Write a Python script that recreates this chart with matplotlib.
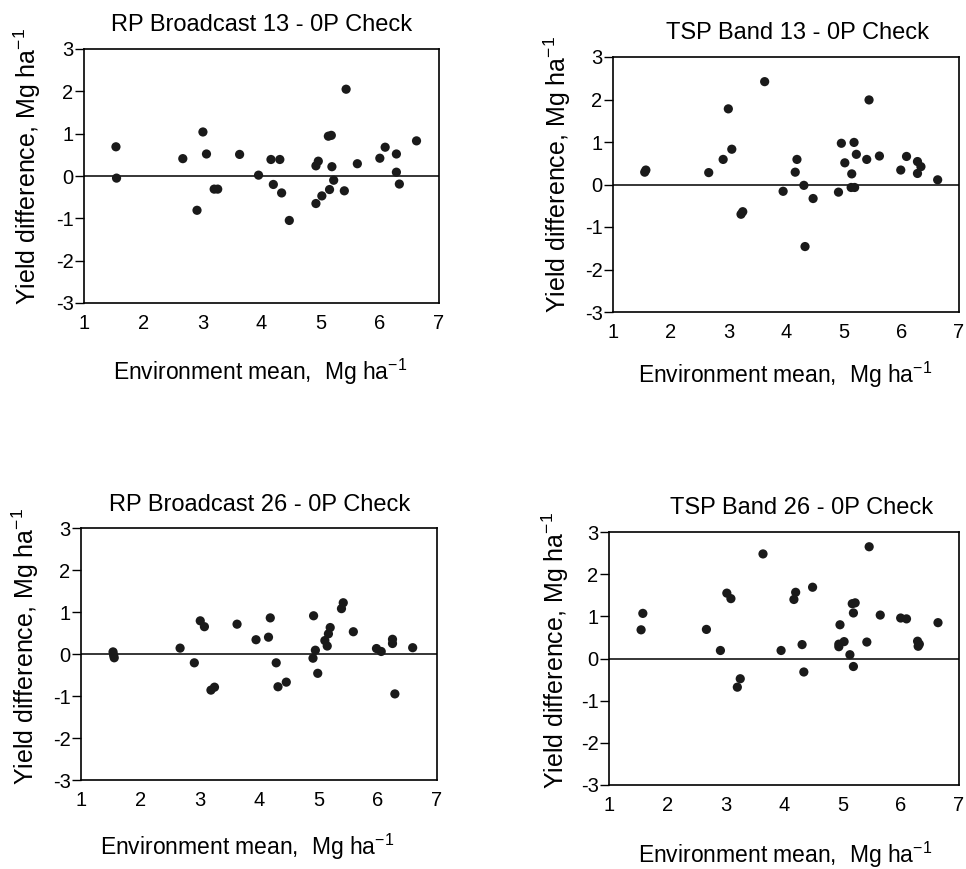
import matplotlib
matplotlib.use("Agg")
import matplotlib.pyplot as plt

plt.rcParams['font.family'] = ['Liberation Sans', 'DejaVu Sans']
plt.rcParams['mathtext.fontset'] = 'custom'
plt.rcParams['mathtext.rm'] = 'Liberation Sans'
plt.rcParams['mathtext.it'] = 'Liberation Sans'
plt.rcParams['axes.unicode_minus'] = False

# ---------------- data ----------------
titles = ["RP Broadcast 13 - 0P Check", "TSP Band 13 - 0P Check",
          "RP Broadcast 26 - 0P Check", "TSP Band 26 - 0P Check"]

rp13_x = [1.54, 1.55, 2.67, 2.91, 3.01, 3.07, 3.20, 3.26, 3.63, 3.95, 4.16, 4.31,
          4.20, 4.34, 4.47, 4.92, 5.02, 4.92, 4.96, 5.13, 5.18, 5.15, 5.19, 5.22,
          5.43, 5.40, 5.62, 6.00, 6.09, 6.28, 6.28, 6.33, 6.62]
rp13_y = [0.69, -0.05, 0.41, -0.81, 1.04, 0.52, -0.31, -0.31, 0.51, 0.02, 0.39, 0.39,
          -0.20, -0.40, -1.05, -0.65, -0.47, 0.24, 0.35, 0.94, 0.96, -0.32, 0.22, -0.10,
          2.05, -0.35, 0.29, 0.42, 0.68, 0.52, 0.09, -0.19, 0.83]

tsp13_x = [1.55, 1.57, 2.66, 2.91, 3.00, 3.06, 3.22, 3.25, 3.63, 3.95, 4.16, 4.19,
           4.31, 4.33, 4.47, 4.91, 4.96, 5.02, 5.14, 5.13, 5.19, 5.18, 5.22, 5.40,
           5.44, 5.62, 5.99, 6.09, 6.28, 6.34, 6.28, 6.63]
tsp13_y = [0.29, 0.34, 0.28, 0.59, 1.78, 0.83, -0.70, -0.64, 2.42, -0.16, 0.29, 0.59,
           -0.02, -1.46, -0.33, -0.18, 0.97, 0.51, 0.25, -0.07, -0.07, 0.99, 0.71, 0.59,
           1.99, 0.67, 0.34, 0.66, 0.54, 0.42, 0.26, 0.11]

rp26_x = [1.54, 1.55, 1.56, 2.67, 2.91, 3.01, 3.08, 3.19, 3.25, 3.63, 3.95, 4.16,
          4.19, 4.29, 4.32, 4.46, 4.92, 4.91, 4.95, 4.99, 5.11, 5.15, 5.17, 5.20,
          5.39, 5.42, 5.59, 5.98, 6.06, 6.25, 6.25, 6.29, 6.59]
rp26_y = [0.05, -0.03, -0.09, 0.14, -0.21, 0.79, 0.65, -0.86, -0.79, 0.71, 0.34, 0.40,
          0.86, -0.21, -0.78, -0.67, 0.91, -0.10, 0.09, -0.46, 0.32, 0.19, 0.48, 0.63,
          1.08, 1.22, 0.53, 0.13, 0.06, 0.35, 0.25, -0.95, 0.15]

tsp26_x = [1.55, 1.58, 2.67, 2.91, 3.02, 3.09, 3.20, 3.25, 3.64, 3.95, 4.17, 4.20,
           4.31, 4.34, 4.49, 4.96, 4.94, 4.94, 5.03, 5.13, 5.17, 5.22, 5.19, 5.19,
           5.42, 5.46, 5.65, 6.00, 6.10, 6.29, 6.32, 6.30, 6.64]
tsp26_y = [0.68, 1.07, 0.69, 0.19, 1.55, 1.42, -0.68, -0.48, 2.48, 0.19, 1.40, 1.57,
           0.33, -0.32, 1.69, 0.80, 0.34, 0.28, 0.40, 0.09, 1.30, 1.32, 1.08, -0.19,
           0.39, 2.65, 1.03, 0.96, 0.94, 0.41, 0.34, 0.29, 0.85]

xs = [rp13_x, tsp13_x, rp26_x, tsp26_x]
ys = [rp13_y, tsp13_y, rp26_y, tsp26_y]

x_ticks = [1, 2, 3, 4, 5, 6, 7]
y_ticks = [-3, -2, -1, 0, 1, 2, 3]

# ---------------- layout (pixels) ----------------
W, H = 966, 869
# left, right, top, bottom of each axes in pixels
boxes = [(84, 439, 49, 303), (613, 959, 57, 312),
         (81, 437, 528, 780), (609, 959, 532, 785)]
title_pos = [(262, 25), (797, 33), (260, 505), (802, 508)]
xlabel_pos = [(260, 372), (785, 375), (247, 847), (785, 855)]
ylabel_pos = [(27, 166), (557, 174), (25, 646), (555, 650)]

fig = plt.figure(figsize=(W / 100, H / 100), dpi=100)

for i in range(4):
    l, r, t, b = boxes[i]
    ax = fig.add_axes([l / W, 1 - b / H, (r - l) / W, (b - t) / H])
    ax.scatter(xs[i], ys[i], s=44, color='#1a1a1a', edgecolors='none', zorder=3)
    ax.axhline(0, color='black', lw=1.1, zorder=2)
    ax.set_xlim(1, 7)
    ax.set_ylim(-3, 3)
    ax.set_xticks(x_ticks)
    ax.set_yticks(y_ticks)
    ax.set_xticklabels([str(v) for v in x_ticks])
    ax.set_yticklabels([str(v) for v in y_ticks])
    ax.tick_params(axis='x', length=0, pad=8, labelsize=14.5)
    ax.tick_params(axis='y', direction='out', length=6.5, width=1.0, pad=1, labelsize=14.5)
    for s in ax.spines.values():
        s.set_linewidth(1.2)
    tx, ty = title_pos[i]
    fig.text(tx / W, 1 - ty / H, titles[i], ha='center', va='center', fontsize=17)
    xx, xy = xlabel_pos[i]
    fig.text(xx / W, 1 - xy / H, "Environment mean,  Mg ha$^{-1}$",
             ha='center', va='center', fontsize=16.5)
    yx, yy = ylabel_pos[i]
    fig.text(yx / W, 1 - yy / H, "Yield difference, Mg ha$^{-1}$",
             ha='center', va='center', rotation=90, fontsize=18)

fig.savefig("out.png", dpi=100)
